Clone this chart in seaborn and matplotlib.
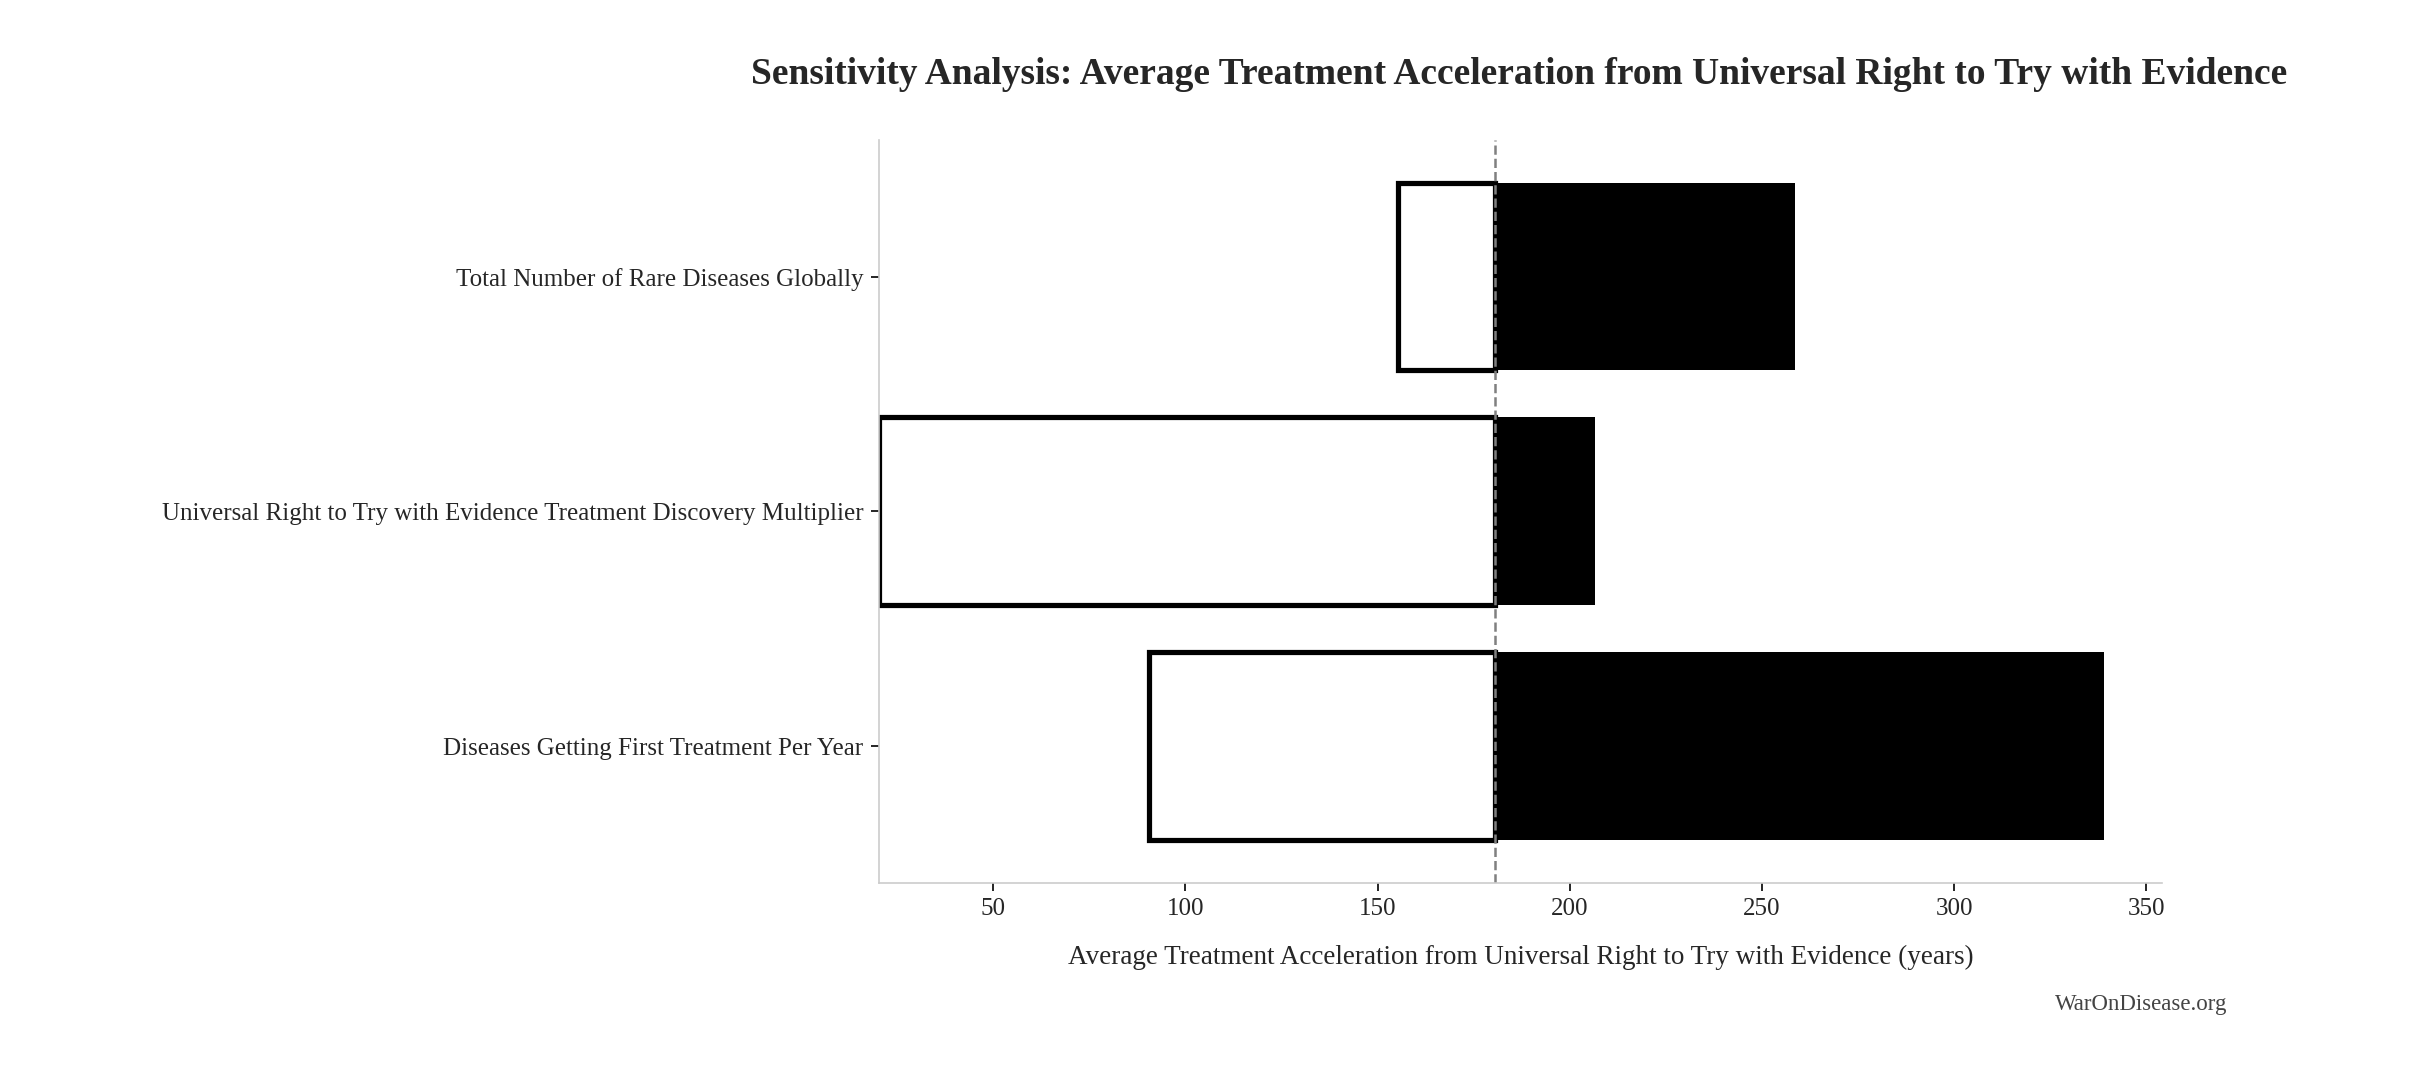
import matplotlib.pyplot as plt
import seaborn as sns

params = [
    "Total Number of Rare Diseases Globally",
    "Universal Right to Try with Evidence Treatment Discovery Multiplier",
    "Diseases Getting First Treatment Per Year",
]
low_values = [155.3, 20.3, 90.6]
high_values = [258.5, 206.5, 339.0]
baseline = 180.5


def main():
    sns.set_style("white")
    plt.rcParams["font.family"] = ["Liberation Serif", "DejaVu Serif"]

    fig = plt.figure(figsize=(16.23, 7.14), dpi=150)
    ax = fig.add_axes([0.361, 0.176, 0.527, 0.693])

    ypos = list(range(len(params)))
    for y, lo, hi in zip(ypos, low_values, high_values):
        ax.barh(y, lo - baseline, left=baseline, height=0.8,
                color="white", edgecolor="black", linewidth=2.5)
        ax.barh(y, hi - baseline, left=baseline, height=0.8,
                color="black", edgecolor="black", linewidth=0)

    ax.axvline(baseline, color="grey", linestyle="--", linewidth=1.2)
    ax.set_yticks(ypos)
    ax.set_yticklabels(params, fontsize=12)
    ax.invert_yaxis()
    ax.set_ylim(2.58, -0.58)
    ax.set_xlim(20.3, 354)
    ax.set_xticks([50, 100, 150, 200, 250, 300, 350])
    ax.tick_params(axis="x", labelsize=12, length=4, color="black", bottom=True)
    ax.tick_params(axis="y", length=4, color="black", left=True)
    ax.set_xlabel("Average Treatment Acceleration from Universal Right to Try with Evidence (years)",
                  fontsize=13, labelpad=12)
    sns.despine(ax=ax)
    for s in ["left", "bottom"]:
        ax.spines[s].set_color("#cccccc")

    fig.text(0.624, 0.93,
             "Sensitivity Analysis: Average Treatment Acceleration from Universal Right to Try with Evidence",
             ha="center", va="center", fontsize=18, fontweight="bold")
    fig.text(0.915, 0.062, "WarOnDisease.org", ha="right", va="center",
             fontsize=11, color="#444444")

    fig.savefig("out.png", dpi=150)
    plt.close(fig)


if __name__ == "__main__":
    main()
